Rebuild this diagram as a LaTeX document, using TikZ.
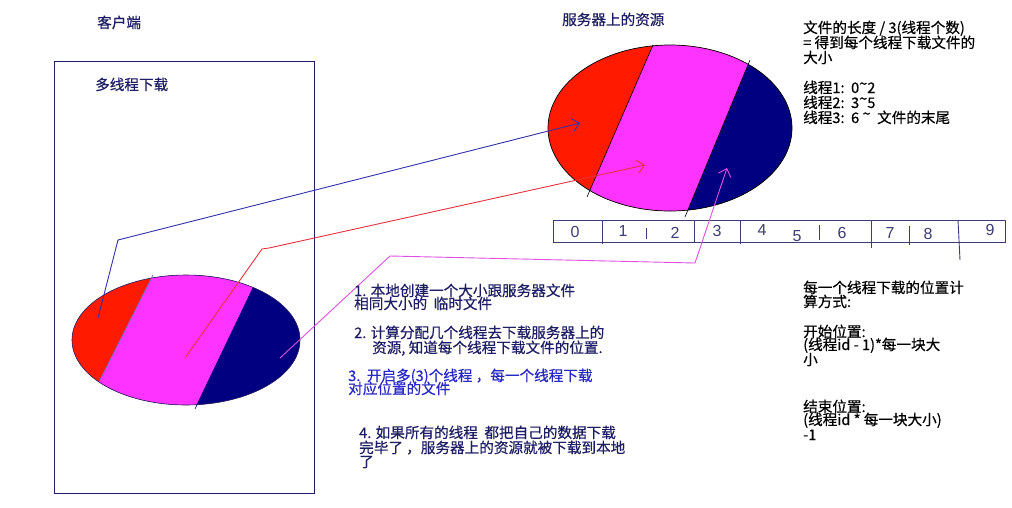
\documentclass[tikz,border=0pt]{standalone}
\usepackage{fontspec}
\setmainfont{Noto Sans CJK SC}[FakeBold=0.5]
\newfontfamily\digitfont{Liberation Sans}
\usetikzlibrary{arrows.meta}
\definecolor{cred}{RGB}{255,26,0}
\definecolor{cmag}{RGB}{255,51,255}
\definecolor{cnavy}{RGB}{0,0,128}
\definecolor{tnavy}{RGB}{30,30,100}
\definecolor{tblue}{RGB}{40,40,200}
\definecolor{lblue}{RGB}{50,50,170}
\definecolor{lred}{RGB}{230,50,60}
\definecolor{lmag}{RGB}{225,80,225}
\definecolor{stripc}{RGB}{60,60,120}
\newcommand{\tld}{\raisebox{4pt}{\textasciitilde}}
\begin{document}
\begin{tikzpicture}[x=1pt,y=-1pt,
  txt/.style={inner sep=0pt, anchor=base west, font=\fontsize{14.6}{14.6}\selectfont},
  navytxt/.style={txt, text=tnavy},
  bluetxt/.style={txt, text=tblue},
  blacktxt/.style={txt, text=black},
  digit/.style={inner sep=0pt, text=stripc, font=\digitfont\fontsize{16}{16}\selectfont},
  conn/.style={line width=0.9pt, line join=round},
  arr/.style={-{Straight Barb[length=7pt,width=13pt]}},
  divline/.style={stripc, line width=0.9pt},
]
\useasboundingbox (0,0) rectangle (1012,507);
\fill[white] (0,0) rectangle (1012,507);

% titles
\node[navytxt] (tclient) at (97,28) {客户端};
\node[navytxt] (tmulti) at (95,90) {多线程下载};
\node[navytxt] (tserver) at (562,25) {服务器上的资源};

% client box
\node[draw=tnavy, line width=1pt, minimum width=260pt, minimum height=432pt,
      anchor=north west, inner sep=0pt] (box) at (54,61) {};

% client ellipse
\begin{scope}
  \clip (186,340) ellipse [x radius=114, y radius=65];
  \fill[cred] (60,260) rectangle (310,420);
  \fill[cmag] (169,243.5) -- (270,252) -- (178,444) -- (84,411.5) -- cycle;
  \fill[cnavy] (270,252) -- (330,252) -- (330,444) -- (178,444) -- cycle;
\end{scope}
\draw[tnavy, line width=0.6pt] (186,340) ellipse [x radius=114, y radius=65];
\draw[lblue!70, line width=0.8pt] (153,275) -- (100,380);
\draw[cnavy, line width=0.6pt] (253,288) -- (195,409);

% server ellipse
\begin{scope}
  \clip (670,128) ellipse [x radius=122, y radius=83];
  \fill[cred] (540,40) rectangle (800,220);
  \fill[cmag] (673,-0.6) -- (769.5,13) -- (665.5,264) -- (567,243) -- cycle;
  \fill[cnavy] (769.5,13) -- (800,13) -- (800,264) -- (665.5,264) -- cycle;
\end{scope}
\draw[black, line width=0.7pt] (670,128) ellipse [x radius=122, y radius=83];
\draw[black, line width=0.6pt] (653,45) -- (587,197);
\draw[black, line width=0.6pt] (750,60) -- (685,217);

% number strip
\node[draw=stripc, line width=0.9pt, minimum width=452pt, minimum height=22pt,
      anchor=north west, inner sep=0pt] (strip) at (553,220) {};
\draw[divline] (602,220) -- (602,244);
\draw[divline] (646,228) -- (646,239);
\draw[divline] (694,220) -- (694,243);
\draw[divline] (740,220) -- (740,244);
\draw[divline] (819,225) -- (819,240);
\draw[divline] (871,220) -- (871,248);
\draw[divline] (909,226) -- (909,245);
\draw[divline] (958,220) -- (960,260);
\node[digit] (d0) at (575,232) {0};
\node[digit] (d1) at (623,231) {1};
\node[digit] (d2) at (675,233) {2};
\node[digit] (d3) at (717,231) {3};
\node[digit] (d4) at (762,230) {4};
\node[digit] (d5) at (797,236) {5};
\node[digit] (d6) at (842,233) {6};
\node[digit] (d7) at (890,233) {7};
\node[digit] (d8) at (928,234) {8};
\node[digit] (d9) at (990,230) {9};

% connectors
\coordinate (b0) at (98,318);
\coordinate (b1) at (118,240);
\coordinate (b2) at (580,123);
\draw[conn, lblue, arr] (b0) -- (b1) -- (b2);
\coordinate (r0) at (185,358);
\coordinate (r1) at (262,249);
\coordinate (r2) at (269,248);
\coordinate (r3) at (645,165);
\draw[conn, lred, arr] (r0) -- (r1) -- (r2) -- (r3);
\coordinate (m0) at (280,358);
\coordinate (m1) at (390,256);
\coordinate (m2) at (695,263);
\coordinate (m3) at (727,168);
\draw[conn, lmag, arr] (m0) -- (m1) -- (m2) -- (m3);

% right upper text
\node[blacktxt] (ru1) at (803,33) {文件的长度 / 3(线程个数)};
\node[blacktxt] (ru2) at (803,48) {=\ 得到每个线程下载文件的};
\node[blacktxt] (ru3) at (803,63) {大小};
\node[blacktxt] (ru4) at (803,93) {线程1:\ \ 0\tld 2};
\node[blacktxt] (ru5) at (803,108) {线程2:\ \ 3\tld 5};
\node[blacktxt] (ru6) at (803,123) {线程3:\ \ 6 \tld\ \ 文件的末尾};

% right lower text
\node[blacktxt] (rl1) at (803,293) {每一个线程下载的位置计};
\node[blacktxt] (rl2) at (803,307) {算方式:};
\node[blacktxt] (rl3) at (803,337) {开始位置:};
\node[blacktxt] (rl4) at (803,350) {(线程id - 1)*每一块大};
\node[blacktxt] (rl5) at (803,365) {小};
\node[blacktxt] (rl6) at (803,412) {结束位置:};
\node[blacktxt] (rl7) at (803,425) {(线程id * 每一块大小)};
\node[blacktxt] (rl8) at (803,440) {-1};

% middle text
\node[navytxt] (s1a) at (354,296) {1. 本地创建一个大小跟服务器文件};
\node[navytxt] (s1b) at (354,309) {相同大小的\ \ 临时文件};
\node[navytxt] (s2a) at (354,338) {2. 计算分配几个线程去下载服务器上的};
\node[navytxt] (s2b) at (372,353) {资源, 知道每个线程下载文件的位置.};
\node[bluetxt] (s3a) at (348,381) {3.\ \ 开启多(3)个线程 ，每一个线程下载};
\node[bluetxt] (s3b) at (348,394) {对应位置的文件};
\node[navytxt] (s4a) at (359,438) {4. 如果所有的线程\ \ 都把自己的数据下载};
\node[navytxt] (s4b) at (359,453) {完毕了 ，服务器上的资源就被下载到本地};
\node[navytxt] (s4c) at (359,467) {了};
\end{tikzpicture}
\end{document}
